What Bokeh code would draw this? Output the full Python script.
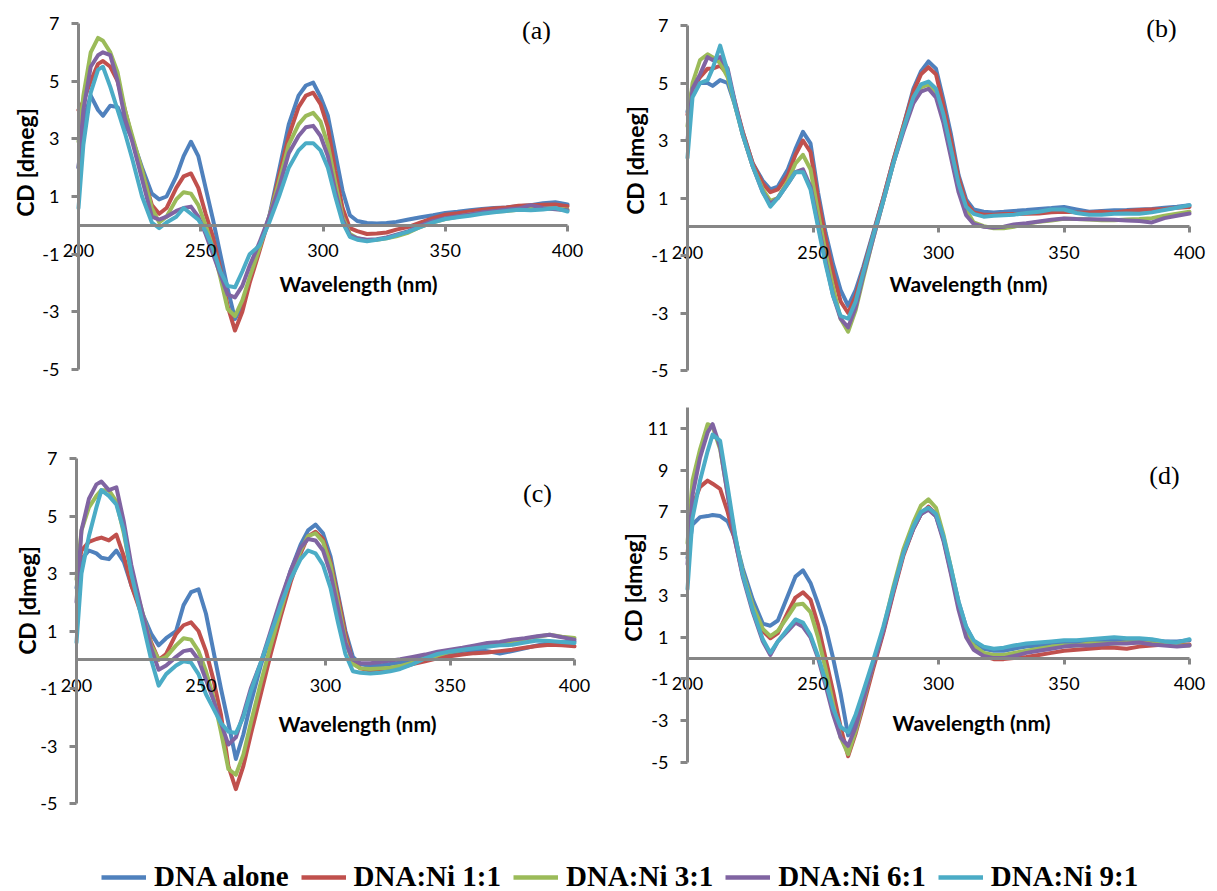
from bokeh.plotting import figure
from bokeh.models import Range1d, FixedTicker, Label, Legend, LegendItem
from bokeh.layouts import column, row
from bokeh.embed import file_html
from bokeh.resources import INLINE
from math import pi

# wavelength grid (nm) shared by every spectrum
wavelength = [200, 202, 205, 208, 210, 213, 216, 219, 222, 226,
              230, 233, 236, 240, 243, 246, 249, 252, 255, 258,
              261, 264, 267, 270, 274, 278, 282, 286, 290, 293,
              296, 299, 302, 305, 308, 311, 314, 318, 322, 326,
              330, 335, 340, 345, 350, 355, 360, 365, 370, 375,
              380, 385, 390, 395, 400]

series_names = ["DNA alone", "DNA:Ni 1:1", "DNA:Ni 3:1", "DNA:Ni 6:1", "DNA:Ni 9:1"]
series_colors = ["#4F81BD", "#C0504D", "#9BBB59", "#8064A2", "#4BACC6"]

x_ticks = [200, 250, 300, 350, 400]
y_ticks_small = [-5, -3, -1, 1, 3, 5, 7]
y_ticks_large = [-5, -3, -1, 1, 3, 5, 7, 9, 11]

# ---- panel (a) ----
a_dna = [2.0, 3.6, 4.5, 4.0, 3.8, 4.15, 4.1, 3.5, 3.0, 2.0,
         1.1, 0.9, 1.0, 1.7, 2.4, 2.9, 2.4, 1.3, 0.2, -1.0,
         -2.2, -3.25, -2.8, -1.9, -0.8, 0.3, 1.9, 3.5, 4.5, 4.85,
         4.95, 4.45, 3.8, 2.5, 1.2, 0.35, 0.15, 0.08, 0.06, 0.08,
         0.12, 0.2, 0.28, 0.35, 0.43, 0.47, 0.52, 0.57, 0.6, 0.62,
         0.66, 0.7, 0.77, 0.8, 0.72]
a_ni11 = [4.0, 4.3, 5.0, 5.6, 5.7, 5.5, 5.0, 4.0, 3.0, 1.9,
          0.7, 0.4, 0.6, 1.3, 1.7, 1.8, 1.3, 0.4, -0.4, -1.5,
          -2.8, -3.65, -3.0, -2.0, -0.9, 0.25, 1.7, 3.1, 4.1, 4.5,
          4.6, 4.2, 3.4, 1.9, 0.6, -0.1, -0.2, -0.3, -0.28, -0.25,
          -0.15, -0.05, 0.1, 0.25, 0.37, 0.42, 0.48, 0.54, 0.58, 0.62,
          0.68, 0.7, 0.71, 0.72, 0.66]
a_ni31 = [2.9, 4.5, 6.0, 6.5, 6.4, 6.0, 5.3, 4.0, 3.1, 1.9,
          0.6, 0.1, 0.3, 0.9, 1.15, 1.1, 0.7, 0.0, -0.8, -1.8,
          -2.9, -3.15, -2.6, -1.8, -0.8, 0.3, 1.5, 2.8, 3.5, 3.8,
          3.9, 3.6, 2.8, 1.5, 0.3, -0.3, -0.45, -0.52, -0.5, -0.45,
          -0.38, -0.25, -0.05, 0.1, 0.22, 0.3, 0.38, 0.43, 0.48, 0.5,
          0.54, 0.58, 0.6, 0.57, 0.55]
a_ni61 = [2.0, 4.0, 5.5, 5.9, 6.0, 5.9, 5.0, 3.7, 2.9, 1.6,
          0.3, 0.2, 0.3, 0.5, 0.6, 0.65, 0.3, -0.3, -1.0, -1.7,
          -2.4, -2.5, -2.1, -1.4, -0.6, 0.3, 1.3, 2.5, 3.1, 3.4,
          3.45, 3.1, 2.4, 1.2, 0.2, -0.35, -0.45, -0.5, -0.48, -0.42,
          -0.32, -0.2, 0.0, 0.15, 0.25, 0.32, 0.38, 0.45, 0.5, 0.55,
          0.58, 0.7, 0.6, 0.56, 0.52]
a_ni91 = [0.6, 2.8, 4.6, 5.4, 5.5, 4.8, 4.0, 3.2, 2.3, 1.0,
          0.1, -0.1, 0.1, 0.3, 0.6, 0.4, 0.2, -0.2, -0.8, -1.6,
          -2.1, -2.15, -1.6, -1.0, -0.7, 0.1, 1.0, 2.0, 2.6, 2.85,
          2.85, 2.6, 2.0, 1.0, 0.1, -0.4, -0.5, -0.55, -0.5, -0.45,
          -0.35, -0.22, -0.05, 0.1, 0.22, 0.28, 0.33, 0.4, 0.45, 0.5,
          0.54, 0.52, 0.55, 0.6, 0.48]

# ---- panel (b) ----
b_dna = [4.0, 4.8, 5.0, 5.0, 4.9, 5.1, 5.0, 4.2, 3.3, 2.2,
         1.6, 1.3, 1.4, 2.0, 2.7, 3.3, 2.9, 1.2, -0.2, -1.3,
         -2.2, -2.75, -2.2, -1.4, -0.2, 1.0, 2.3, 3.5, 4.8, 5.4,
         5.75, 5.5, 4.4, 3.2, 1.8, 0.95, 0.6, 0.52, 0.5, 0.52,
         0.55, 0.58, 0.62, 0.65, 0.69, 0.6, 0.52, 0.55, 0.57, 0.58,
         0.6, 0.62, 0.66, 0.7, 0.75]
b_ni11 = [3.9, 4.8, 5.2, 5.5, 5.5, 5.6, 5.3, 4.3, 3.3, 2.2,
          1.5, 1.2, 1.3, 1.8, 2.5, 3.0, 2.6, 1.0, -0.4, -1.6,
          -2.6, -3.0, -2.4, -1.5, -0.25, 1.0, 2.3, 3.5, 4.7, 5.3,
          5.55, 5.3, 4.2, 3.0, 1.7, 0.85, 0.5, 0.42, 0.42, 0.44,
          0.44, 0.45, 0.46, 0.5, 0.52, 0.5, 0.5, 0.52, 0.5, 0.55,
          0.58, 0.6, 0.62, 0.66, 0.69]
b_ni31 = [3.5, 5.0, 5.8, 6.0, 5.9, 5.7, 5.2, 4.2, 3.2, 2.1,
          1.3, 0.9, 1.0, 1.6, 2.2, 2.5, 2.0, 0.5, -0.9, -2.1,
          -3.2, -3.65, -2.9, -1.8, -0.4, 0.9, 2.2, 3.4, 4.4, 4.85,
          4.95, 4.7, 3.8, 2.6, 1.4, 0.6, 0.15, 0.02, -0.05, -0.05,
          0.0, 0.1, 0.17, 0.22, 0.28, 0.27, 0.25, 0.23, 0.23, 0.25,
          0.27, 0.3, 0.38, 0.45, 0.52]
b_ni61 = [3.0, 4.8, 5.3, 5.9, 5.8, 5.9, 5.5, 4.3, 3.2, 2.1,
          1.2, 0.8, 1.0, 1.5, 1.9, 2.0, 1.4, 0.1, -1.2, -2.4,
          -3.2, -3.5, -2.8, -1.7, -0.4, 0.9, 2.2, 3.3, 4.3, 4.7,
          4.8, 4.5, 3.6, 2.4, 1.2, 0.4, 0.1, 0.0, -0.03, 0.0,
          0.08, 0.12, 0.18, 0.24, 0.29, 0.27, 0.26, 0.25, 0.24, 0.22,
          0.2, 0.15, 0.3, 0.38, 0.46]
b_ni91 = [2.4, 4.5, 5.0, 5.1, 5.5, 6.3, 5.4, 4.2, 3.2, 2.1,
          1.2, 0.7, 1.0, 1.5, 1.9, 1.9, 1.3, 0.0, -1.3, -2.4,
          -3.1, -3.2, -2.6, -1.6, -0.3, 0.9, 2.2, 3.4, 4.5, 4.95,
          5.05, 4.8, 3.9, 2.7, 1.5, 0.7, 0.45, 0.35, 0.38, 0.4,
          0.42, 0.48, 0.52, 0.6, 0.6, 0.48, 0.42, 0.42, 0.45, 0.46,
          0.45, 0.5, 0.58, 0.66, 0.75]

# ---- panel (c) ----
c_dna = [2.5, 3.5, 3.8, 3.7, 3.55, 3.5, 3.8, 3.4, 2.6, 1.7,
         0.9, 0.5, 0.75, 1.0, 1.9, 2.35, 2.45, 1.6, 0.3, -1.0,
         -2.2, -3.45, -2.6, -1.5, -0.2, 0.9, 2.0, 3.1, 4.0, 4.5,
         4.7, 4.4, 3.6, 2.3, 1.0, 0.1, -0.15, -0.22, -0.2, -0.15,
         -0.1, -0.02, 0.1, 0.18, 0.23, 0.3, 0.35, 0.3, 0.22, 0.3,
         0.4, 0.5, 0.58, 0.6, 0.64]
c_ni11 = [3.0, 3.8, 4.1, 4.2, 4.25, 4.15, 4.35, 3.6, 2.6, 1.6,
          0.6, 0.0, 0.2, 0.9, 1.2, 1.3, 1.0, 0.3, -0.7, -1.9,
          -3.7, -4.5, -3.7, -2.6, -1.2, 0.2, 1.5, 2.7, 3.7, 4.3,
          4.45, 4.2, 3.4, 2.2, 0.9, -0.1, -0.3, -0.38, -0.35, -0.32,
          -0.28, -0.15, -0.05, 0.05, 0.12, 0.18, 0.23, 0.25, 0.3, 0.35,
          0.42, 0.48, 0.52, 0.5, 0.47]
c_ni31 = [2.8, 4.5, 5.3, 5.7, 5.9, 5.9, 5.5, 4.4, 3.0, 1.8,
          0.5, 0.0, 0.1, 0.5, 0.75, 0.7, 0.3, -0.4, -1.3, -2.5,
          -3.8, -4.0, -3.3, -2.2, -0.8, 0.5, 1.7, 2.9, 3.8, 4.3,
          4.4, 4.1, 3.3, 2.0, 0.7, -0.15, -0.3, -0.32, -0.3, -0.28,
          -0.22, -0.1, 0.05, 0.15, 0.28, 0.35, 0.45, 0.52, 0.58, 0.64,
          0.72, 0.8, 0.87, 0.8, 0.76]
c_ni61 = [2.0, 4.5, 5.6, 6.1, 6.2, 5.9, 6.0, 4.8, 3.3, 1.8,
          0.4, -0.35, -0.2, 0.1, 0.3, 0.35, 0.0, -0.7, -1.4, -2.2,
          -2.95, -2.7, -1.9, -1.0, -0.1, 1.0, 2.1, 3.1, 3.9, 4.2,
          4.15, 3.8, 3.0, 1.8, 0.6, 0.0, -0.12, -0.12, -0.08, -0.03,
          0.02, 0.1, 0.18, 0.28, 0.35, 0.42, 0.5, 0.58, 0.62, 0.7,
          0.75, 0.82, 0.87, 0.78, 0.7]
c_ni91 = [0.6, 3.0, 4.3, 5.3, 5.9, 5.7, 5.4, 4.5, 3.0, 1.5,
          0.0, -0.9, -0.5, -0.2, -0.05, -0.1, -0.5, -1.2, -1.7, -2.2,
          -2.5, -2.55, -2.0, -1.1, -0.1, 0.9, 1.9, 2.8, 3.5, 3.8,
          3.7, 3.3, 2.5, 1.3, 0.2, -0.4, -0.45, -0.48, -0.45, -0.4,
          -0.32, -0.15, 0.05, 0.2, 0.29, 0.35, 0.4, 0.45, 0.5, 0.52,
          0.6, 0.67, 0.65, 0.62, 0.58]

# ---- panel (d) ----
d_dna = [4.8, 6.4, 6.75, 6.8, 6.85, 6.8, 6.55, 5.7, 4.3, 2.8,
         1.65, 1.55, 1.8, 3.0, 3.9, 4.2, 3.6, 2.6, 1.5, 0.0,
         -1.7, -3.7, -3.1, -2.0, -0.4, 1.3, 3.2, 5.0, 6.2, 6.9,
         7.15, 6.8, 5.7, 4.2, 2.7, 1.5, 0.8, 0.45, 0.35, 0.35,
         0.45, 0.55, 0.6, 0.65, 0.7, 0.75, 0.8, 0.8, 0.85, 0.85,
         0.9, 0.85, 0.8, 0.8, 0.85]
d_ni11 = [5.0, 7.3, 8.2, 8.5, 8.35, 8.1, 7.0, 5.6, 4.0, 2.4,
          1.3, 0.95, 1.2, 2.2, 2.9, 3.15, 2.8, 1.6, 0.0, -1.6,
          -3.3, -4.7, -3.6, -2.3, -0.5, 1.2, 3.1, 4.9, 6.2, 6.9,
          7.25, 6.9, 5.7, 4.1, 2.5, 1.2, 0.5, 0.1, -0.05, -0.05,
          0.0, 0.05, 0.15, 0.25, 0.35, 0.4, 0.45, 0.5, 0.5, 0.45,
          0.55, 0.6, 0.65, 0.6, 0.65]
d_ni31 = [5.5, 8.5, 10.0, 11.2, 11.1, 10.0, 7.9, 5.8, 4.1, 2.5,
          1.4, 1.05, 1.3, 2.0, 2.55, 2.6, 2.2, 1.0, -0.5, -2.2,
          -3.8, -4.6, -3.5, -2.1, -0.3, 1.4, 3.4, 5.2, 6.5, 7.3,
          7.6, 7.2, 5.9, 4.3, 2.6, 1.3, 0.6, 0.25, 0.15, 0.15,
          0.25, 0.35, 0.45, 0.55, 0.6, 0.6, 0.7, 0.7, 0.7, 0.75,
          0.75, 0.7, 0.65, 0.6, 0.6]
d_ni61 = [4.5, 7.8, 9.6, 10.8, 11.2, 10.1, 7.8, 5.6, 3.9, 2.2,
          0.8, 0.15, 0.8, 1.3, 1.7, 1.5, 1.0, 0.0, -1.3, -2.7,
          -3.8, -4.2, -3.3, -2.0, -0.3, 1.3, 3.2, 5.0, 6.2, 6.9,
          7.1, 6.8, 5.6, 4.0, 2.3, 1.0, 0.4, 0.1, 0.0, 0.0,
          0.1, 0.25, 0.35, 0.45, 0.55, 0.6, 0.6, 0.65, 0.7, 0.7,
          0.75, 0.65, 0.6, 0.55, 0.6]
d_ni91 = [3.3, 6.7, 8.5, 9.9, 10.7, 10.4, 8.2, 5.9, 4.0, 2.3,
          0.9, 0.25, 0.8, 1.4, 1.85, 1.7, 1.1, 0.1, -1.1, -2.4,
          -3.3, -3.55, -2.7, -1.6, -0.1, 1.5, 3.3, 5.0, 6.3, 7.0,
          7.2, 6.9, 5.8, 4.3, 2.7, 1.5, 0.85, 0.55, 0.45, 0.5,
          0.6, 0.7, 0.75, 0.8, 0.85, 0.85, 0.9, 0.95, 1.0, 0.95,
          0.95, 0.9, 0.8, 0.75, 0.9]

AXIS_GRAY = "#868686"
TICK_FONT = "Lato"
TITLE_FONT = "Lato"


def build_panel(curves, tag, y_top, y_ticks, size, axis_box, tag_xy, ylabel_xy, xlabel_xy):
    """One spectrum panel.  The plot frame fills the whole canvas; axes are
    pinned inside it (x axis on the zero line), so every text stays visible.
    axis_box = (left px of 200 nm, right px of 400 nm, top px of y_top, bottom px of -5)."""
    width, height = size
    px_l, px_r, px_t, px_b = axis_box
    sx = (px_r - px_l) / (400 - 200)
    sy = (px_b - px_t) / (y_top - (-5))
    x_range = Range1d(200 - px_l / sx, 400 + (width - px_r) / sx)
    y_range = Range1d(-5 - (height - px_b) / sy, y_top + px_t / sy)

    p = figure(width=width, height=height, x_range=x_range, y_range=y_range,
               min_border=0, output_backend="svg", toolbar_location=None)
    p.outline_line_color = None
    p.grid.visible = False

    for values, color in zip(curves, series_colors):
        p.line(wavelength, values, line_color=color, line_width=4,
               line_join="round", line_cap="round")

    xa = p.xaxis[0]
    xa.fixed_location = 0
    xa.bounds = (200, 400)
    xa.ticker = FixedTicker(ticks=x_ticks)
    xa.major_label_overrides = {t: str(t) for t in x_ticks}
    xa.major_label_standoff = 13
    xa.major_tick_out = 6
    xa.major_tick_in = 0

    ya = p.yaxis[0]
    ya.fixed_location = 200
    ya.bounds = (-5, y_top)
    ya.ticker = FixedTicker(ticks=y_ticks)
    ya.major_label_overrides = {t: str(t) for t in y_ticks}
    ya.major_label_standoff = 12
    ya.major_tick_out = 7
    ya.major_tick_in = 0

    for ax in (xa, ya):
        ax.axis_line_color = AXIS_GRAY
        ax.axis_line_width = 3
        ax.major_tick_line_color = AXIS_GRAY
        ax.major_tick_line_width = 3
        ax.minor_tick_line_color = None
        ax.major_label_text_font = TICK_FONT
        ax.major_label_text_font_size = "18px"
        ax.major_label_text_color = "#000000"

    # titles and panel tag (screen offsets: x from left, y from bottom)
    p.add_layout(Label(x=ylabel_xy[0], y=ylabel_xy[1], x_units="screen", y_units="screen",
                       text="CD [dmeg]", angle=pi / 2, text_align="center",
                       text_baseline="middle", text_font=TITLE_FONT,
                       text_font_style="bold", text_font_size="23px",
                       text_color="#000000"))
    p.add_layout(Label(x=xlabel_xy[0], y=xlabel_xy[1], x_units="screen", y_units="screen",
                       text="Wavelength (nm)", text_align="center",
                       text_baseline="middle", text_font=TITLE_FONT,
                       text_font_style="bold", text_font_size="21px",
                       text_color="#000000"))
    p.add_layout(Label(x=tag_xy[0], y=tag_xy[1], x_units="screen", y_units="screen",
                       text=tag, text_align="center", text_baseline="middle",
                       text_font="Liberation Serif", text_font_size="26px",
                       text_color="#000000"))
    return p


pa = build_panel([a_dna, a_ni11, a_ni31, a_ni61, a_ni91], "(a)", 7, y_ticks_small,
                 (608, 430), (78, 567, 23, 369), (536, 400), (24, 268), (358, 147))
pc = build_panel([c_dna, c_ni11, c_ni31, c_ni61, c_ni91], "(c)", 7, y_ticks_small,
                 (608, 410), (76, 574, 28, 373), (537, 347), (26, 240), (357, 117))
pb = build_panel([b_dna, b_ni11, b_ni31, b_ni61, b_ni91], "(b)", 7, y_ticks_small,
                 (609, 390), (79, 581, 25, 370), (553, 362), (26, 230), (360, 107))
pd = build_panel([d_dna, d_ni11, d_ni31, d_ni61, d_ni91], "(d)", 12, y_ticks_large,
                 (609, 450), (79, 581, 17, 372), (556, 365), (24, 253), (363, 118))

# shared legend strip along the bottom
leg = figure(width=1217, height=51, x_range=Range1d(0, 1), y_range=Range1d(0, 1),
             x_axis_location=None, y_axis_location=None, min_border=0,
             output_backend="svg", toolbar_location=None)
leg.outline_line_color = None
leg.grid.visible = False
items = []
for name, color in zip(series_names, series_colors):
    r = leg.line(x=[float("nan")], y=[float("nan")], line_color=color, line_width=4.5)
    items.append(LegendItem(label=name, renderers=[r]))
legend = Legend(items=items, orientation="horizontal", location=(101, -2),
                padding=0, margin=0, spacing=12, glyph_width=45, glyph_height=28,
                label_standoff=8, label_height=28,
                label_text_font="Liberation Serif", label_text_font_style="bold",
                label_text_font_size="29px", label_text_color="#000000",
                background_fill_alpha=0, border_line_color=None)
leg.add_layout(legend, "center")

layout = column(row(column(pa, pc), column(pb, pd)), leg)

with open("out.html", "w") as f:
    f.write(file_html(layout, INLINE))
